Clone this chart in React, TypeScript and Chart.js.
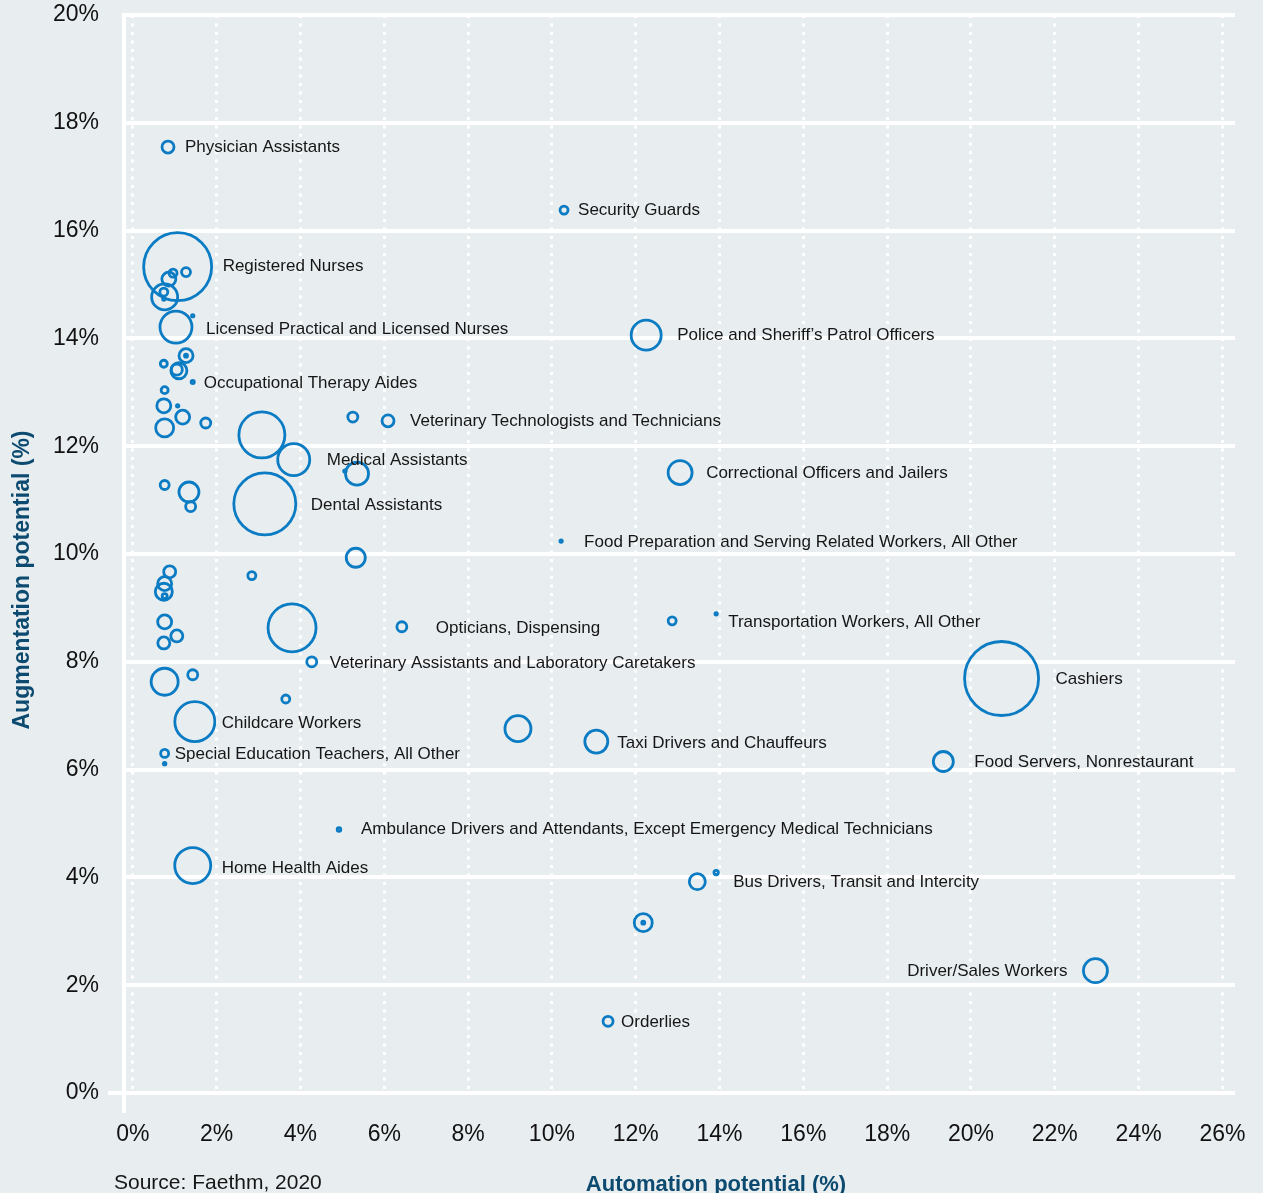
import React, { useEffect, useRef } from "react";
import { Chart, registerables } from "chart.js";

Chart.register(...registerables);

// ---- Data ----
const occupations: string[] = [
  "Physician Assistants",
  "Security Guards",
  "Registered Nurses",
  "Licensed Practical and Licensed Nurses",
  "Police and Sheriff’s Patrol Officers",
  "Occupational Therapy Aides",
  "Veterinary Technologists and Technicians",
  "Medical Assistants",
  "Correctional Officers and Jailers",
  "Dental Assistants",
  "Food Preparation and Serving Related Workers, All Other",
  "Opticians, Dispensing",
  "Transportation Workers, All Other",
  "Veterinary Assistants and Laboratory Caretakers",
  "Cashiers",
  "Childcare Workers",
  "Taxi Drivers and Chauffeurs",
  "Special Education Teachers, All Other",
  "Food Servers, Nonrestaurant",
  "Ambulance Drivers and Attendants, Except Emergency Medical Technicians",
  "Home Health Aides",
  "Bus Drivers, Transit and Intercity",
  "Driver/Sales Workers",
  "Orderlies",
  "", "", "", "", "", "", "", "", "", "", "", "", "", "", "", "", "", "", "", "", "", "",
  "", "", "", "", "", "", "", "", "", "", "", "", "", "", "", "", "", "", "", "", "", "",
];

// Automation potential (%)
const automation: number[] = [
  0.84, 10.29, 1.07, 1.03, 12.25, 1.43, 6.09, 3.84, 13.06, 3.15,
  10.22, 6.42, 13.92, 4.27, 20.73, 1.48, 11.06, 0.76, 19.34, 4.92,
  1.43, 13.92, 22.97, 11.34,
  13.47, 12.18, 12.18, 9.19, 3.65, 3.8, 2.84, 5.32, 5.35, 5.06,
  3.08, 5.25, 12.87, 1.43, 0.76, 0.74, 1.05, 0.76, 0.88, 0.76,
  0.74, 0.76, 0.76, 1.34, 1.38, 0.76, 1.74, 0.76, 1.19, 0.74,
  1.07, 0.76, 1.1, 1.05, 0.74, 1.27, 1.27, 1.43, 0.76, 0.74,
  0.74, 0.86, 0.96, 1.27,
];

// Augmentation potential (%)
const augmentation: number[] = [
  17.55, 16.38, 15.33, 14.21, 14.06, 13.19, 12.47, 11.75, 11.51, 10.93,
  10.24, 8.65, 8.89, 8.0, 7.69, 6.89, 6.52, 6.3, 6.15, 4.89,
  4.22, 4.09, 2.27, 1.33,
  3.92, 3.16, 3.16, 6.76, 7.31, 8.63, 9.6, 9.93, 11.49, 11.54,
  12.21, 12.54, 8.76, 7.76, 7.63, 8.35, 8.48, 8.74, 9.67, 9.45,
  9.3, 9.22, 11.28, 11.15, 10.88, 6.11, 12.43, 12.34, 12.54, 12.75,
  12.75, 13.04, 13.4, 13.42, 13.53, 13.68, 13.68, 14.42, 14.77, 14.86,
  14.73, 15.1, 15.21, 15.23,
];

// Bubble size (workforce size index, drawn as bubble radius)
const bubbleSize: number[] = [
  6, 4, 34, 16, 15, 1.6, 6, 16, 12, 31,
  1.2, 5, 1.2, 5, 37, 20, 11.5, 4, 10, 1.8,
  18, 2.2, 12, 5,
  8, 9, 1.5, 13, 4, 24, 4, 9.5, 11.5, 1.2,
  23, 5, 4, 5, 13.5, 6, 6, 7, 6, 7,
  8.5, 2.5, 4.5, 10, 5, 1.3, 5, 9, 7, 7,
  1.2, 3.5, 8, 5.5, 3.5, 7, 1.5, 1.2, 13, 4,
  1.2, 7, 4, 4.5,
];

const xTicks: number[] = [0, 2, 4, 6, 8, 10, 12, 14, 16, 18, 20, 22, 24, 26];
const yTicks: number[] = [0, 2, 4, 6, 8, 10, 12, 14, 16, 18, 20];

// Label placement (pixel offsets from the bubble centre) — styling only
const labelDx: number[] = [17, 14, 45, 30, 31, 11, 22, 33, 26, 46, 23, 34, 12, 18, 54, 27, 21, 10, 31, 22, 29, 17, -28, 13];
const labelDy: number[] = [0, 0, 0, 2, 0, 1, 0, 1, 1, 1, 1, 2, 8, 2, 1, 2, 2, 1, 1, 0, 3, 10, 1, 1];

const FONT = '"Liberation Sans", Arial, Helvetica, sans-serif';
const BLUE = "#0b7cc3";
const BG = "#e8edf0";
const TITLE = "#0d4a70";
const TEXT = "#161616";

export default function App() {
  const ref = useRef<HTMLCanvasElement>(null);

  useEffect(() => {
    document.body.style.margin = "0";
    const canvas = ref.current;
    if (!canvas) return;

    const extras = {
      id: "extras",
      beforeDatasetsDraw(chart: any) {
        const { ctx, chartArea } = chart;
        const ys = chart.scales.y;
        const x0 = chartArea.left;
        const y0 = ys.getPixelForValue(0);
        ctx.save();
        ctx.strokeStyle = "#ffffff";
        ctx.lineWidth = 4;
        ctx.beginPath();
        ctx.moveTo(x0, ys.getPixelForValue(20) - 2);
        ctx.lineTo(x0, y0 + 20);
        ctx.stroke();
        ctx.beginPath();
        ctx.moveTo(x0 - 16, y0);
        ctx.lineTo(x0, y0);
        ctx.stroke();
        ctx.restore();
      },
      afterDatasetsDraw(chart: any) {
        const { ctx } = chart;
        const meta = chart.getDatasetMeta(0);
        ctx.save();
        ctx.font = `17px ${FONT}`;
        ctx.fillStyle = TEXT;
        ctx.textBaseline = "middle";
        occupations.forEach((name, i) => {
          if (!name) return;
          const el = meta.data[i];
          const dx = labelDx[i];
          ctx.textAlign = dx < 0 ? "right" : "left";
          ctx.fillText(name, el.x + dx, el.y + labelDy[i]);
        });
        ctx.restore();
      },
      afterDraw(chart: any) {
        const { ctx } = chart;
        ctx.save();
        ctx.fillStyle = TITLE;
        ctx.font = `bold 22px ${FONT}`;
        ctx.textAlign = "center";
        ctx.textBaseline = "alphabetic";
        ctx.fillText("Automation potential (%)", 716, 1191);
        ctx.save();
        ctx.translate(29, 580);
        ctx.rotate(-Math.PI / 2);
        ctx.font = `bold 23px ${FONT}`;
        ctx.fillText("Augmentation potential (%)", 0, 0);
        ctx.restore();
        ctx.fillStyle = TEXT;
        ctx.font = `21px ${FONT}`;
        ctx.textAlign = "left";
        ctx.fillText("Source: Faethm, 2020", 114, 1189);
        ctx.restore();
      },
    };

    const chart = new Chart(canvas, {
      type: "bubble",
      data: {
        datasets: [
          {
            data: automation.map((x, i) => ({ x, y: augmentation[i], r: bubbleSize[i] })),
            borderColor: BLUE,
            backgroundColor: "rgba(0,0,0,0)",
            borderWidth: 2.8,
            hoverBorderWidth: 2.8,
            clip: false,
          },
        ],
      },
      options: {
        responsive: false,
        animation: false,
        events: [],
        layout: { autoPadding: false, padding: { top: 15, right: 28, left: 0, bottom: 0 } },
        plugins: {
          legend: { display: false },
          tooltip: { enabled: false },
        },
        scales: {
          x: {
            type: "linear",
            min: -0.21,
            max: 26.3,
            afterBuildTicks: (scale: any) => {
              scale.ticks = xTicks.map((v) => ({ value: v }));
            },
            afterFit: (scale: any) => {
              scale.height = 100;
              scale.paddingLeft = 0;
              scale.paddingRight = 0;
            },
            grid: {
              color: "#ffffff",
              lineWidth: 3,
              drawTicks: false,
            },
            border: { display: false, dash: [3, 5.5] },
            ticks: {
              padding: 28,
              color: "#111111",
              font: { family: FONT, size: 23 },
              callback: (v: any) => `${v}%`,
            },
          },
          y: {
            type: "linear",
            min: 0,
            max: 20,
            afterBuildTicks: (scale: any) => {
              scale.ticks = yTicks.map((v) => ({ value: v }));
            },
            afterFit: (scale: any) => {
              scale.width = 124;
              scale.paddingTop = 0;
              scale.paddingBottom = 0;
            },
            grid: {
              color: "#ffffff",
              lineWidth: 4,
              drawTicks: false,
            },
            border: { display: false },
            ticks: {
              padding: 25,
              color: "#111111",
              font: { family: FONT, size: 23 },
              callback: (v: any) => `${v}%`,
            },
          },
        },
      },
      plugins: [extras],
    } as any);

    return () => chart.destroy();
  }, []);

  return (
    <div style={{ width: 1263, height: 1193, background: BG, position: "relative" }}>
      <canvas ref={ref} width={1263} height={1193} style={{ display: "block", width: 1263, height: 1193 }} />
    </div>
  );
}
